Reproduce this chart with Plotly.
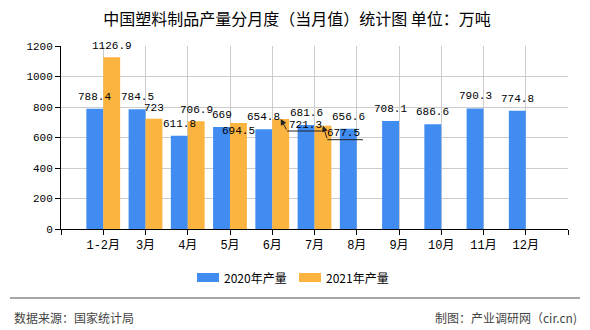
import plotly.graph_objects as go

categories = ["1-2月", "3月", "4月", "5月", "6月", "7月", "8月", "9月", "10月", "11月", "12月"]
values_2020 = [788.4, 784.5, 611.8, 669, 654.8, 681.6, 656.6, 708.1, 686.6, 790.3, 774.8]
values_2021 = [1126.9, 723, 706.9, 694.5, 721.3, 677.5]
series_names = ["2020年产量", "2021年产量"]
y_ticks = [0, 200, 400, 600, 800, 1000, 1200]

BLUE = "#418cf0"
ORANGE = "#fcb441"
W, H = 590, 330
L, R, T, B = 61, 568, 46, 229
MONO = "Liberation Mono, Noto Sans CJK SC, monospace"
CJK = "Noto Sans CJK SC, sans-serif"


def px_x(p):
    return (p - L) / (R - L)


def px_y(p):
    return (B - p) / (B - T)


idx = list(range(len(categories)))
off = 0.2

fig = go.Figure()
fig.add_trace(go.Bar(x=idx, y=values_2020, name=series_names[0], marker=dict(color=BLUE, line=dict(width=0)),
                     offset=-0.4, width=0.4, showlegend=False))
fig.add_trace(go.Bar(x=idx[:len(values_2021)], y=values_2021, name=series_names[1],
                     marker=dict(color=ORANGE, line=dict(width=0)), offset=0.0, width=0.4, showlegend=False))

annotations = []
label_font = dict(family=MONO, size=11, color="black")
for i, v in enumerate(values_2020):
    annotations.append(dict(x=i - off, y=v, xref="x", yref="y", text=str(v), showarrow=False,
                            yshift=12, font=label_font, xanchor="center", yanchor="middle"))

for i, v in enumerate(values_2021):
    if i in (4, 5):
        continue
    dy = 11 if i != 3 else -8
    annotations.append(dict(x=i + off, y=v, xref="x", yref="y", text=str(v), showarrow=False,
                            yshift=dy, font=label_font, xanchor="center", yanchor="middle"))

shapes = []
# moved labels with leader lines (6月, 7月 of 2021)
leaders = {4: (6.5, 12, 41, 25, 6), 5: (4.5, 14, 40, 21, 7)}
for i, (dx, dy, hx, tx, ty) in leaders.items():
    v = values_2021[i]
    annotations.append(dict(x=i + off, y=v, xref="x", yref="y", text="", showarrow=True,
                            ax=dx, ay=dy, arrowhead=2, arrowsize=1.2, arrowwidth=1, arrowcolor="#222",
                            standoff=0, startstandoff=0))
    shapes.append(dict(type="line", xref="x", yref="y", xsizemode="pixel", ysizemode="pixel",
                       xanchor=i + off, yanchor=v, x0=dx, x1=hx, y0=-dy, y1=-dy,
                       line=dict(color="#222", width=1)))
    annotations.append(dict(x=i + off, y=v, xref="x", yref="y", text=str(v), showarrow=False,
                            xshift=tx, yshift=-ty, font=label_font, xanchor="center", yanchor="middle"))

# custom legend (wide swatches)
legend_items = [(series_names[0], BLUE, 197), (series_names[1], ORANGE, 299)]
for name, col, x0 in legend_items:
    shapes.append(dict(type="rect", xref="paper", yref="paper", x0=px_x(x0), x1=px_x(x0 + 22),
                       y0=px_y(273), y1=px_y(282), fillcolor=col, line=dict(width=0)))
    annotations.append(dict(xref="paper", yref="paper", x=px_x(x0 + 25), y=px_y(277.5), text=name,
                            showarrow=False, xanchor="left", yanchor="middle",
                            font=dict(family=CJK, size=12, color="black")))

# footer
shapes.append(dict(type="line", xref="paper", yref="paper", x0=px_x(10), x1=px_x(580),
                   y0=px_y(298), y1=px_y(298), line=dict(color="#888", width=1.5)))
annotations.append(dict(xref="paper", yref="paper", x=px_x(12), y=px_y(317), text="数据来源：国家统计局",
                        showarrow=False, xanchor="left", yanchor="middle",
                        font=dict(family=CJK, size=12, color="#444")))
annotations.append(dict(xref="paper", yref="paper", x=px_x(579), y=px_y(317), text="制图：产业调研网（cir.cn)",
                        showarrow=False, xanchor="right", yanchor="middle",
                        font=dict(family=CJK, size=12, color="#444")))

fig.update_layout(
    width=W, height=H,
    margin=dict(l=L, r=W - R, t=T, b=H - B, pad=0),
    paper_bgcolor="white", plot_bgcolor="white",
    title=dict(text="中国塑料制品产量分月度（当月值）统计图 单位：万吨", x=297 / W, xanchor="center",
               y=1 - 19 / H, yanchor="middle", font=dict(family=CJK, size=16, color="black")),
    barmode="overlay",
    showlegend=False,
    annotations=annotations,
    shapes=shapes,
)
fig.update_xaxes(range=[-1, len(categories)], tickmode="array", tickvals=[-1] + idx + [len(categories)],
                 ticktext=[""] + categories + [""], showgrid=True, gridcolor="#cccccc", gridwidth=1,
                 showline=True, linecolor="black", linewidth=1, ticks="outside", ticklen=5, tickcolor="black",
                 tickfont=dict(family=MONO, size=12, color="black"), zeroline=False)
fig.update_yaxes(range=[0, 1200], tickmode="array", tickvals=y_ticks, showgrid=True, gridcolor="#cccccc",
                 gridwidth=1, showline=True, linecolor="black", linewidth=1, ticks="outside", ticklen=5,
                 tickcolor="black", tickfont=dict(family=MONO, size=11, color="black"), zeroline=False)

fig.write_html("out.html")
